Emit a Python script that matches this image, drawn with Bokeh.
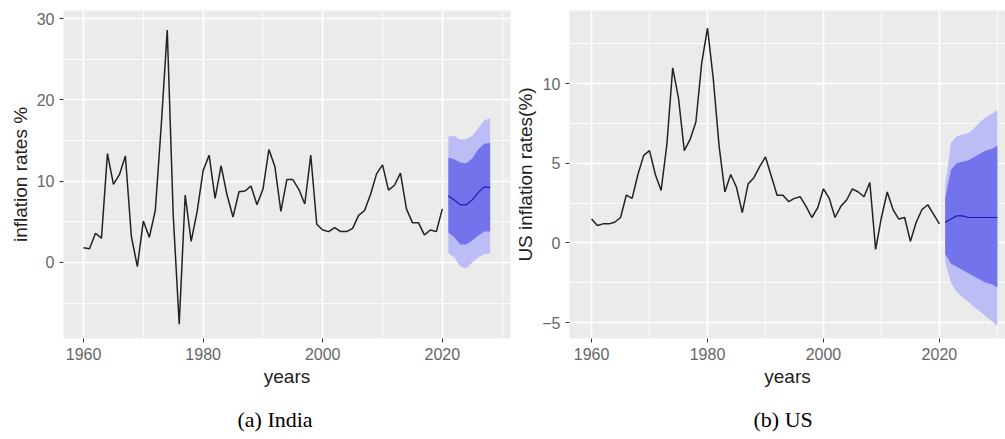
from bokeh.plotting import figure
from bokeh.layouts import row
from bokeh.models import SingleIntervalTicker, Title, Range1d
from bokeh.embed import file_html
from bokeh.resources import INLINE

# ---------------- data ----------------
years = list(range(1960, 2021))

india_inflation = [1.8, 1.7, 3.6, 3.0, 13.4, 9.6, 10.8, 13.1, 3.2, -0.5,
                   5.1, 3.1, 6.4, 16.9, 28.6, 5.8, -7.6, 8.3, 2.6, 6.3,
                   11.3, 13.2, 7.9, 11.9, 8.3, 5.6, 8.7, 8.8, 9.4, 7.1,
                   9.0, 13.9, 11.8, 6.3, 10.2, 10.2, 9.0, 7.2, 13.2, 4.7,
                   4.0, 3.8, 4.3, 3.8, 3.8, 4.2, 5.8, 6.4, 8.4, 10.9,
                   12.0, 8.9, 9.5, 11.0, 6.6, 4.9, 4.9, 3.4, 4.0, 3.8,
                   6.6]

india_fc_years = list(range(2021, 2029))
india_fc_mean = [8.2, 7.7, 7.1, 7.1, 7.7, 8.6, 9.3, 9.2]
india_lo80 = [3.7, 3.1, 2.2, 2.2, 2.7, 3.3, 3.8, 3.8]
india_hi80 = [12.9, 12.7, 12.3, 12.2, 12.8, 13.9, 14.6, 14.7]
india_lo95 = [1.2, 0.6, -0.5, -0.7, 0.0, 0.6, 1.0, 1.1]
india_hi95 = [15.5, 15.6, 15.1, 15.2, 15.6, 16.5, 17.5, 17.7]

us_inflation = [1.5, 1.1, 1.2, 1.2, 1.3, 1.6, 3.0, 2.8, 4.3, 5.5,
                5.8, 4.3, 3.3, 6.2, 11.0, 9.1, 5.8, 6.5, 7.6, 11.3,
                13.5, 10.3, 6.1, 3.2, 4.3, 3.5, 1.9, 3.7, 4.1, 4.8,
                5.4, 4.2, 3.0, 3.0, 2.6, 2.8, 2.9, 2.3, 1.6, 2.2,
                3.4, 2.8, 1.6, 2.3, 2.7, 3.4, 3.2, 2.9, 3.8, -0.4,
                1.6, 3.2, 2.1, 1.5, 1.6, 0.1, 1.3, 2.1, 2.4, 1.8,
                1.2]

us_fc_years = list(range(2021, 2031))
us_fc_mean = [1.3, 1.5, 1.7, 1.7, 1.6, 1.6, 1.6, 1.6, 1.6, 1.6]
us_lo80 = [-0.7, -1.3, -1.5, -1.7, -1.9, -2.1, -2.3, -2.5, -2.6, -2.8]
us_hi80 = [2.8, 4.6, 5.0, 5.1, 5.2, 5.4, 5.6, 5.8, 5.9, 6.1]
us_lo95 = [-1.2, -2.5, -3.1, -3.4, -3.7, -4.0, -4.3, -4.6, -4.9, -5.2]
us_hi95 = [3.6, 6.3, 6.7, 6.8, 6.9, 7.2, 7.6, 7.9, 8.1, 8.35]

x_label = "years"
india_ylabel = "inflation rates %"
us_ylabel = "US inflation rates(%)"
india_caption = "(a) India"
us_caption = "(b) US"


def make_panel(width, border_left, border_right, xr, yr, y_interval,
               yrs, vals, fyrs, fmean, lo80, hi80, lo95, hi95,
               ylabel, caption, cap_offset, label_standoff):
    p = figure(width=width, height=439, output_backend="svg",
               toolbar_location=None,
               x_range=Range1d(*xr), y_range=Range1d(*yr),
               min_border_left=border_left, min_border_right=border_right,
               min_border_top=10, min_border_bottom=101)
    p.background_fill_color = "#EBEBEB"
    p.border_fill_color = "white"
    p.outline_line_color = None

    p.xaxis.ticker = SingleIntervalTicker(interval=20, num_minor_ticks=2)
    p.yaxis.ticker = SingleIntervalTicker(interval=y_interval, num_minor_ticks=2)

    for g in (p.xgrid, p.ygrid):
        g.grid_line_color = "white"
        g.grid_line_width = 1.6
        g.minor_grid_line_color = "white"
        g.minor_grid_line_width = 0.8

    for ax in (p.xaxis, p.yaxis):
        ax.axis_line_color = None
        ax.minor_tick_line_color = None
        ax.major_tick_line_color = "#333333"
        ax.major_tick_out = 4
        ax.major_tick_in = 0
        ax.major_label_text_font = "Liberation Sans"
        ax.major_label_text_font_size = "16px"
        ax.major_label_text_color = "#666666"
        ax.major_label_standoff = 5
        ax.axis_label_text_font = "Liberation Sans"
        ax.axis_label_text_font_size = "19px"
        ax.axis_label_text_font_style = "normal"
        ax.axis_label_text_color = "#222222"

    p.xaxis.axis_label = x_label
    p.xaxis.axis_label_standoff = 3
    p.yaxis.axis_label = ylabel
    p.yaxis.axis_label_standoff = label_standoff

    p.varea(x=fyrs, y1=lo95, y2=hi95, fill_color="#BDBDF5", fill_alpha=1.0)
    p.varea(x=fyrs, y1=lo80, y2=hi80, fill_color="#7373EC", fill_alpha=1.0)
    p.line(fyrs, fmean, line_color="#1A1AB0", line_width=1.2)
    p.line(yrs, vals, line_color="#222222", line_width=1.5)

    spacer = Title(text=" ", text_font_size="11px", standoff=0,
                   text_color="white")
    p.add_layout(spacer, "below")
    cap = Title(text=caption, align="left", offset=cap_offset,
                text_font="Liberation Serif", text_font_size="22px",
                text_font_style="normal", text_color="black", standoff=3)
    p.add_layout(cap, "below")
    return p


p1 = make_panel(512, 63, 2, (1956.65, 2031.4), (-9.35, 31.0), 10,
                years, india_inflation, india_fc_years, india_fc_mean,
                india_lo80, india_hi80, india_lo95, india_hi95,
                india_ylabel, india_caption, 174, 3)

p2 = make_panel(493, 57, 0, (1956.2, 2031.4), (-6.0, 14.6), 5,
                years, us_inflation, us_fc_years, us_fc_mean,
                us_lo80, us_hi80, us_lo95, us_hi95,
                us_ylabel, us_caption, 184, 3)

layout = row(p1, p2)
open("out.html", "w").write(file_html(layout, INLINE))
